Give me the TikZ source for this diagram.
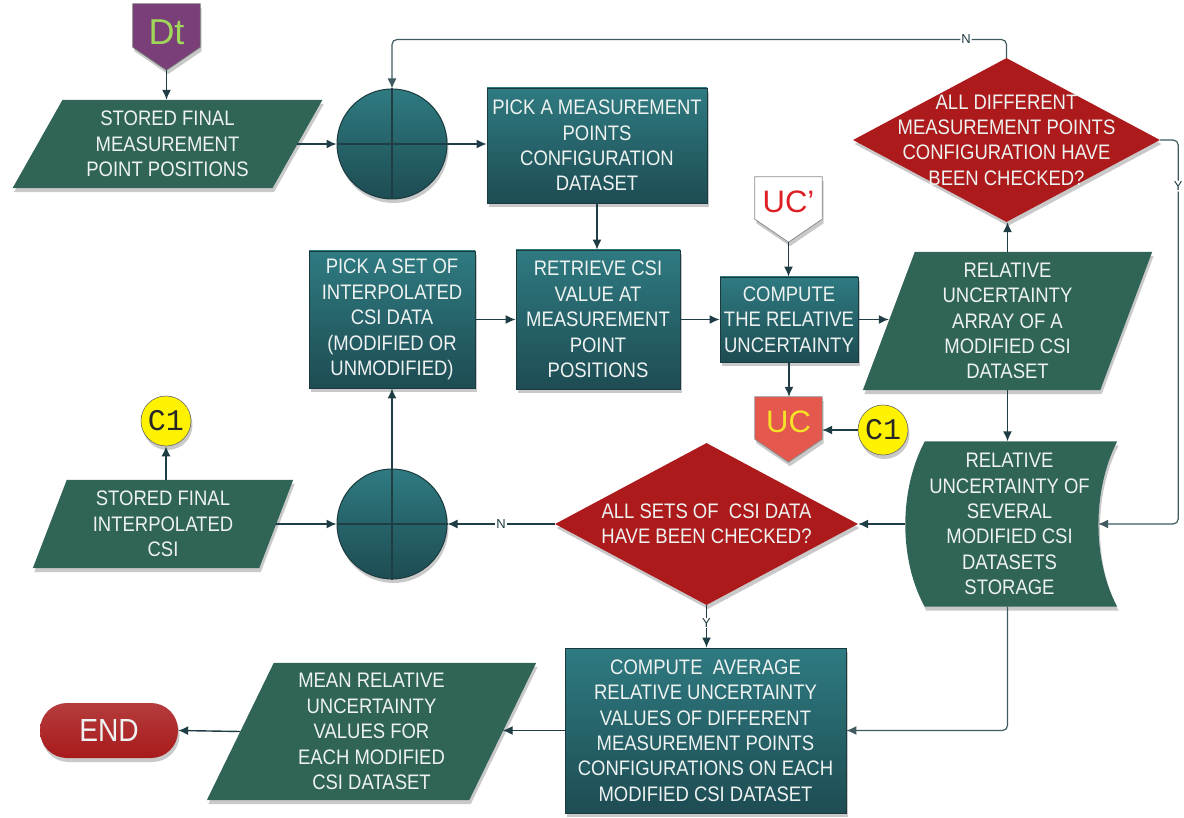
\documentclass[tikz,border=0pt]{standalone}
\usepackage{fontspec}
\setmainfont{Liberation Sans}[FakeStretch=0.88]
\newfontfamily\plainsans{Liberation Sans}
\newfontfamily\monofnt{Liberation Mono}
\usetikzlibrary{shapes.geometric,arrows.meta,calc,shadows,backgrounds}

\definecolor{procTop}{RGB}{47,122,129}
\definecolor{procBot}{RGB}{30,76,83}
\definecolor{procLine}{RGB}{26,58,63}
\definecolor{paraFill}{RGB}{47,100,86}
\definecolor{decFill}{RGB}{172,26,28}
\definecolor{lineCol}{RGB}{31,61,68}
\definecolor{txtWhite}{RGB}{238,242,240}
\definecolor{dtFill}{RGB}{122,62,120}
\definecolor{dtText}{RGB}{160,214,90}
\definecolor{ucFill}{RGB}{229,88,78}
\definecolor{ucText}{RGB}{245,225,40}
\definecolor{ucpText}{RGB}{222,30,36}
\definecolor{conFill}{RGB}{255,242,0}
\definecolor{endFill}{RGB}{168,26,27}

\tikzset{
  every node/.style={font=\fontsize{21}{25.4}\selectfont, text=txtWhite, align=center, inner sep=0pt},
  shd/.style={drop shadow={opacity=0.3, shadow xshift=1.5pt, shadow yshift=-4pt, fill=black!70}},
  proc/.style={rectangle, draw=procLine, line width=0.8pt, top color=procTop, bottom color=procBot, shd},
  slot/.style={rectangle},
  junction/.style={circle, minimum size=110pt, draw=procLine, line width=1pt, top color=procTop, bottom color=procBot, shd},
  decision/.style={diamond, fill=decFill, shd},
  terminal/.style={rectangle, rounded corners=27pt, top color=endFill!85!white, bottom color=endFill, minimum width=138pt, minimum height=55pt, shd, font=\fontsize{32}{32}\selectfont},
  connector/.style={circle, minimum size=50pt, fill=conFill, draw=black!60, line width=0.6pt, text=black!85, font=\monofnt\fontsize{30}{30}\selectfont, shd},
  arr/.style={draw=lineCol, line width=1.4pt, -{Latex[length=10pt,width=9pt]}},
  loop/.style={draw=lineCol!85, line width=1.2pt, rounded corners=5pt, -{Latex[length=10pt,width=9pt]}},
  yn/.style={font=\plainsans\fontsize{13}{13}\selectfont, text=lineCol, fill=white, inner sep=1pt},
  bigtxt/.style={font=\plainsans\fontsize{31}{31}\selectfont},
}

% parallelogram body around a named slot: #1 node, #2 half of the slant
\newcommand{\paraoutline}[2]{%
  \fill[paraFill, shd] ($(#1.north west)+(#2,0)$) -- ($(#1.north east)+(#2,0)$)
    -- ($(#1.south east)-(#2,0)$) -- ($(#1.south west)-(#2,0)$) -- cycle;}
% off-page connector body around a named slot: #1 node, #2 fill, #3 border
\newcommand{\offpage}[3]{%
  \filldraw[fill=#2, draw=#3, line width=0.8pt, shd] (#1.north west) -- (#1.north east)
    -- ($(#1.south east)+(0,-23)$) -- (#1.south) -- ($(#1.south west)+(0,-23)$) -- cycle;}

\begin{document}
\begin{tikzpicture}[x=1pt,y=-1pt]
\useasboundingbox (0,0) rectangle (1184,818);

% ---------- process steps ----------
\node[proc, minimum width=220pt, minimum height=115pt] (pm) at (597,145.5)
  {PICK A MEASUREMENT\\POINTS\\CONFIGURATION\\DATASET};
\node[proc, minimum width=164pt, minimum height=139pt] (rv) at (598,319.5)
  {RETRIEVE CSI\\VALUE AT\\MEASUREMENT\\POINT\\POSITIONS};
\node[proc, minimum width=166pt, minimum height=137pt] (ps) at (392,319.5)
  {PICK A SET OF\\INTERPOLATED\\CSI DATA\\(MODIFIED OR\\UNMODIFIED)};
\node[proc, minimum width=138pt, minimum height=85pt] (cr) at (789,319.5)
  {COMPUTE\\THE RELATIVE\\UNCERTAINTY};
\node[proc, minimum width=281pt, minimum height=165pt] (av) at (705.5,730.5)
  {COMPUTE\ \ AVERAGE\\RELATIVE UNCERTAINTY\\VALUES OF DIFFERENT\\MEASUREMENT POINTS\\CONFIGURATIONS ON EACH\\MODIFIED CSI DATASET};

% ---------- data (parallelograms) ----------
\node[slot, minimum width=259.5pt, minimum height=88pt] (p1) at (167.5,144)
  {STORED FINAL\\MEASUREMENT\\POINT POSITIONS};
\node[slot, minimum width=237pt, minimum height=138pt] (p2) at (1007.5,321)
  {RELATIVE\\UNCERTAINTY\\ARRAY OF A\\MODIFIED CSI\\DATASET};
\node[slot, minimum width=226pt, minimum height=88pt] (p3) at (163,524)
  {STORED FINAL\\INTERPOLATED\\CSI};
\node[slot, minimum width=262pt, minimum height=137pt] (p4) at (371.5,731.5)
  {MEAN RELATIVE\\UNCERTAINTY\\VALUES FOR\\EACH MODIFIED\\CSI DATASET};

% ---------- stored data ----------
\node[slot, minimum width=193pt, minimum height=165pt,
  label={[xshift=8pt]center:{RELATIVE\\UNCERTAINTY OF\\SEVERAL\\MODIFIED CSI\\DATASETS\\STORAGE}}] (st) at (1001.5,524) {};

% ---------- junctions ----------
\node[junction] (j1) at (392,144) {};
\node[junction] (j2) at (392,524) {};
\draw[lineCol, line width=1.2pt] (j1.north) -- (j1.south) (j1.west) -- (j1.east);
\draw[lineCol, line width=1.2pt] (j2.north) -- (j2.south) (j2.west) -- (j2.east);

% ---------- decisions ----------
\node[decision, minimum width=307pt, minimum height=164pt,
  label={center:{ALL DIFFERENT\\MEASUREMENT POINTS\\CONFIGURATION HAVE\\BEEN CHECKED?}}] (d1) at (1006.5,140) {};
\node[decision, minimum width=303pt, minimum height=162pt,
  label={center:{ALL SETS OF\ \ CSI DATA\\HAVE BEEN CHECKED?}}] (d2) at (706.5,524) {};

% ---------- off-page connectors ----------
\node[slot, minimum width=67pt, minimum height=66pt,
  label={[yshift=5pt, font=\plainsans\fontsize{36}{36}\selectfont, text=dtText]center:Dt}] (dt) at (166.5,37) {};
\node[slot, minimum width=67pt, minimum height=65pt,
  label={[yshift=8pt, bigtxt, text=ucpText]center:UC’}] (ucp) at (788.5,209.5) {};
\node[slot, minimum width=67pt, minimum height=65pt,
  label={[yshift=8pt, bigtxt, text=ucText]center:UC}] (uc) at (788.5,429.5) {};

% ---------- on-page connectors ----------
\node[connector] (cL) at (166,421) {C1};
\node[connector] (cR) at (883,430) {C1};

% ---------- terminal ----------
\node[terminal] (end) at (109,730.5) {END};

% ---------- shape bodies ----------
\begin{scope}[on background layer]
  \paraoutline{p1}{25}
  \paraoutline{p2}{26}
  \paraoutline{p3}{17}
  \paraoutline{p4}{33.5}
  \fill[paraFill, shd] ($(st.north west)+(20,0)$) -- ($(st.north east)+(19,0)$)
    .. controls ($(st.east)+(-6,-34)$) and ($(st.east)+(-6,36)$) .. ($(st.south east)+(19,0)$)
    -- ($(st.south west)+(20,0)$)
    .. controls ($(st.west)+(-6,36)$) and ($(st.west)+(-6,-34)$) .. ($(st.north west)+(20,0)$) -- cycle;
  \offpage{dt}{dtFill}{black!55}
  \offpage{ucp}{white}{black!45}
  \offpage{uc}{ucFill}{black!45}
\end{scope}

% ---------- connectors ----------
\draw[arr] (dt.south) -- (p1.north -| dt.south);
\draw[arr] (p1.east) -- (j1.west);
\draw[arr] (j1.east) -- (pm.west |- j1.east);
\draw[arr] (pm.south) -- (pm.south |- rv.north);
\draw[arr] (ps.east) -- (rv.west);
\draw[arr] (rv.east) -- (cr.west);
\draw[arr] (ucp.south) -- (ucp.south |- cr.north);
\draw[arr] (cr.east) -- (p2.west |- cr.east);
\draw[arr] (cr.south) -- (cr.south |- uc.north);
\draw[arr] (cR.west) -- (cR.west -| uc.east);
\draw[arr] (p2.north) -- (p2.north |- d1.south);
\draw[arr] (p2.south) -- (p2.south |- st.north);
\draw[loop] (d1.north) |- node[yn, pos=0.533] {N} ($(j1.north)+(0,-49)$) -- (j1.north);
\draw[loop] (d1.east) -- ($(d1.east)+(18,0)$) |- node[yn, pos=0.06] {Y} (st.east);
\draw[arr] (st.west) -- (d2.east);
\draw[arr] (d2.west) -- node[yn] {N} (j2.east);
\draw[arr] (j2.north) -- (ps.south);
\draw[arr] (p3.east) -- (j2.west);
\draw[arr] (cL.south |- p3.north) -- (cL.south);
\draw[arr] (d2.south) -- node[yn, pos=0.42] {Y} (av.north -| d2.south);
\draw[loop] (p2.south |- st.south) |- (av.east);
\draw[arr] (av.west) -- (p4.east |- av.west);
\draw[arr] (p4.west) -- (end.east);
\end{tikzpicture}
\end{document}
